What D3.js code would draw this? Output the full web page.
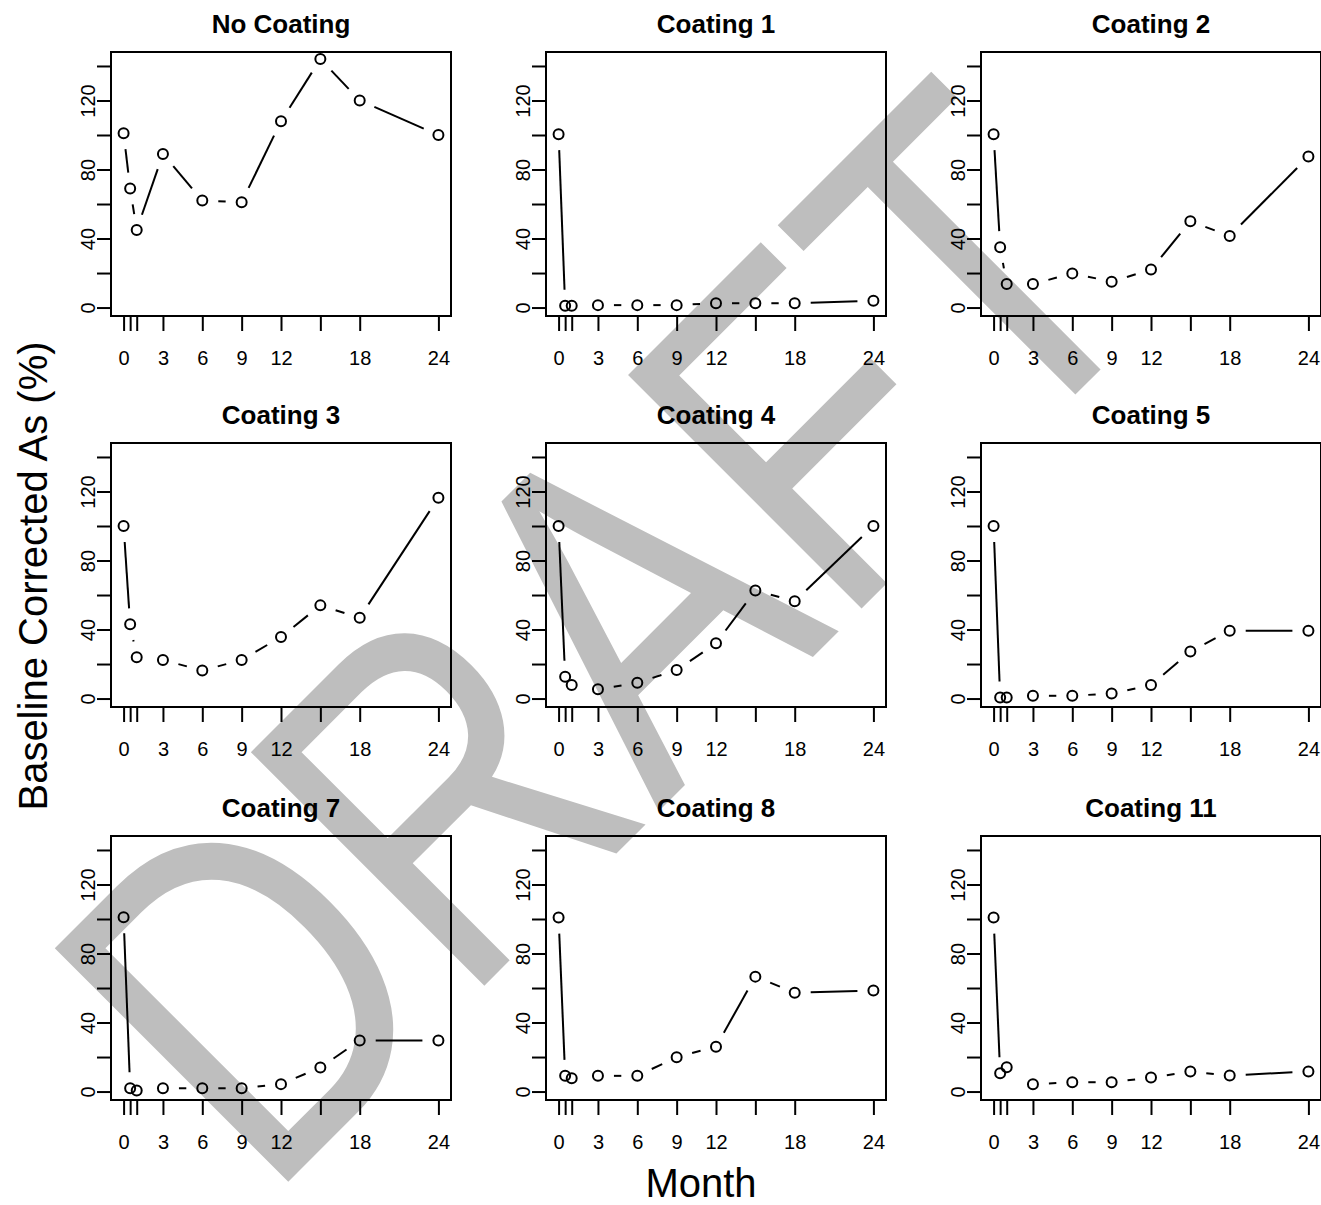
<!DOCTYPE html>
<html>
<head>
<meta charset="utf-8">
<script src="https://cdn.jsdelivr.net/npm/d3@7"></script>
<style>
  html, body { margin: 0; padding: 0; background: #fff; }
  svg { display: block; }
  text { font-family: "Liberation Sans", Arial, sans-serif; }
</style>
</head>
<body>
<svg id="chart" width="1321" height="1205"></svg>
<script>
// ---- data ----
const months = [0, 0.5, 1, 3, 6, 9, 12, 15, 18, 24];
const xTickValues = [0, 0.5, 1, 3, 6, 9, 12, 15, 18, 24];
const xTickLabels = ["0", "", "", "3", "6", "9", "12", "", "18", "24"];
const yTickValues = [0, 20, 40, 60, 80, 100, 120, 140];
const yTickLabels = ["0", "", "40", "", "80", "", "120", ""];
const panelTitles = ["No Coating", "Coating 1", "Coating 2", "Coating 3", "Coating 4",
                     "Coating 5", "Coating 7", "Coating 8", "Coating 11"];
const noCoating = [101, 69, 45, 89, 62, 61, 108, 144, 120, 100];
const coating1  = [100.5, 1, 1, 1.4, 1.4, 1.4, 2.5, 2.5, 2.5, 4];
const coating2  = [100.5, 35, 13.6, 13.6, 19.8, 15, 22, 50, 41.5, 87.5];
const coating3  = [100, 43, 24, 22.4, 16.2, 22.4, 35.7, 54, 46.8, 116.4];
const coating4  = [100, 12.6, 7.8, 5.4, 9.1, 16.5, 32, 62.6, 56.4, 100];
const coating5  = [100, 0.6, 0.6, 1.6, 1.6, 2.9, 7.8, 27.2, 39.3, 39.3];
const coating7  = [101, 1.9, 0.6, 1.9, 1.9, 1.9, 4.3, 13.9, 29.6, 29.6];
const coating8  = [100.8, 9.1, 7.7, 9.1, 9.1, 19.9, 26, 66.6, 57.3, 58.5];
const coating11 = [100.8, 10.6, 14.1, 4.2, 5.4, 5.4, 8.1, 11.6, 9.3, 11.6];
const seriesList = [noCoating, coating1, coating2, coating3, coating4,
                    coating5, coating7, coating8, coating11];
const xLabelText = "Month";
const yLabelText = "Baseline Corrected As (%)";
const watermarkText = "DRAFT";

// ---- layout ----
const svg = d3.select("#chart");
svg.append("rect").attr("width", 1321).attr("height", 1205).attr("fill", "#fff");

const colLeft = [111, 546, 981];
const rowTop = [52, 443, 836];
const boxW = 340, boxH = 264;
const gap = 16;

// watermark (behind data)
svg.append("text")
  .attr("transform", "translate(266,1204) rotate(-45) scale(0.8,1)")
  .attr("text-anchor", "start")
  .attr("font-size", 480)
  .attr("fill", "#bebebe")
  .text(watermarkText);

const x = d3.scaleLinear().domain([-0.96, 24.96]).range([0, boxW]);
const y = d3.scaleLinear().domain([-4.9, 148.1]).range([boxH, 0]);

seriesList.forEach((vals, i) => {
  const r = Math.floor(i / 3), c = i % 3;
  const g = svg.append("g").attr("transform", `translate(${colLeft[c]},${rowTop[r]})`);

  g.append("text")
    .attr("x", boxW / 2).attr("y", -19)
    .attr("text-anchor", "middle")
    .attr("font-size", 26).attr("font-weight", "bold")
    .text(panelTitles[i]);

  const xa = g.append("g").attr("transform", `translate(0,${boxH})`)
    .call(d3.axisBottom(x).tickValues(xTickValues)
      .tickFormat((d, k) => xTickLabels[k]).tickSize(15).tickSizeOuter(0));
  xa.select(".domain").remove();
  xa.selectAll("line").attr("stroke", "#000").attr("stroke-width", 2);
  xa.selectAll("text").attr("y", 49).attr("dy", 0)
    .attr("font-size", 20).attr("fill", "#000")
    .attr("font-family", "Liberation Sans, Arial, sans-serif");

  const ya = g.append("g")
    .call(d3.axisLeft(y).tickValues(yTickValues)
      .tickFormat((d, k) => yTickLabels[k]).tickSize(14).tickSizeOuter(0));
  ya.select(".domain").remove();
  ya.selectAll("line").attr("stroke", "#000").attr("stroke-width", 2);
  ya.selectAll("text").attr("x", null).attr("dy", 0)
    .attr("transform", "translate(-16.5,0) rotate(-90)")
    .attr("text-anchor", "middle")
    .attr("font-size", 20).attr("fill", "#000")
    .attr("font-family", "Liberation Sans, Arial, sans-serif");

  g.append("rect").attr("x", 0).attr("y", 0).attr("width", boxW).attr("height", boxH)
    .attr("fill", "none").attr("stroke", "#000").attr("stroke-width", 2);

  const pts = months.map((m, k) => [x(m), y(vals[k])]);
  const segs = [];
  for (let k = 0; k < pts.length - 1; k++) {
    const [x1, y1] = pts[k], [x2, y2] = pts[k + 1];
    const d = Math.hypot(x2 - x1, y2 - y1);
    if (d > 2 * gap) {
      const ux = (x2 - x1) / d, uy = (y2 - y1) / d;
      segs.push([x1 + ux * gap, y1 + uy * gap, x2 - ux * gap, y2 - uy * gap]);
    }
  }
  g.selectAll("line.seg").data(segs).enter().append("line")
    .attr("class", "seg")
    .attr("x1", s => s[0]).attr("y1", s => s[1])
    .attr("x2", s => s[2]).attr("y2", s => s[3])
    .attr("stroke", "#000").attr("stroke-width", 2);

  g.selectAll("circle").data(pts).enter().append("circle")
    .attr("cx", p => p[0]).attr("cy", p => p[1]).attr("r", 5)
    .attr("fill", "none").attr("stroke", "#000").attr("stroke-width", 2);
});

svg.append("text")
  .attr("x", 701).attr("y", 1197)
  .attr("text-anchor", "middle").attr("font-size", 40)
  .text(xLabelText);
svg.append("text")
  .attr("transform", "translate(47,576) rotate(-90)")
  .attr("text-anchor", "middle").attr("font-size", 40)
  .text(yLabelText);
</script>
</body>
</html>
